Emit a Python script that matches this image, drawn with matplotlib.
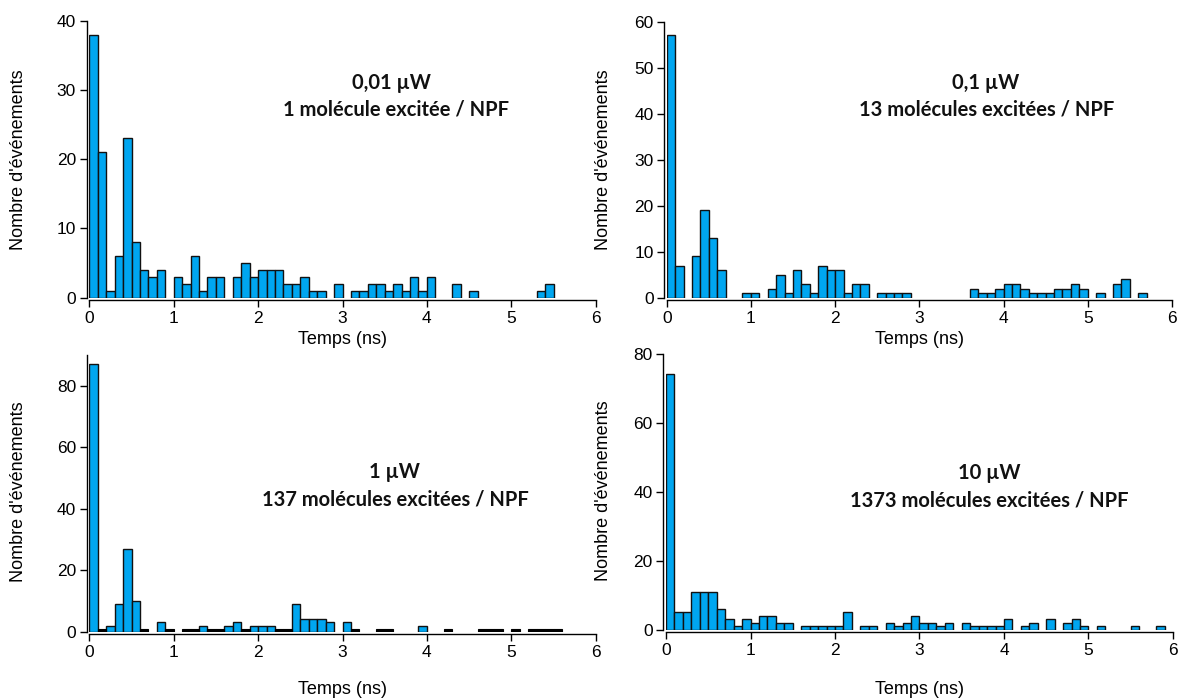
import numpy as np
import matplotlib
matplotlib.use("Agg")
import matplotlib.pyplot as plt

# ---------------- data (counts per 0.1 ns bin, 0 -> 6 ns) ----------------
bin_width = 0.1
bin_start = np.round(np.arange(60) * bin_width, 1)

counts_001uW = [38, 21, 1, 6, 23, 8, 4, 3, 4, 0,
                3, 2, 6, 1, 3, 3, 0, 3, 5, 3,
                4, 4, 4, 2, 2, 3, 1, 1, 0, 2,
                0, 1, 1, 2, 2, 1, 2, 1, 3, 1,
                3, 0, 0, 2, 0, 1, 0, 0, 0, 0,
                0, 0, 0, 1, 2, 0, 0, 0, 0, 0]

counts_01uW = [57, 7, 0, 9, 19, 13, 6, 0, 0, 1,
               1, 0, 2, 5, 1, 6, 3, 1, 7, 6,
               6, 1, 3, 3, 0, 1, 1, 1, 1, 0,
               0, 0, 0, 0, 0, 0, 2, 1, 1, 2,
               3, 3, 2, 1, 1, 1, 2, 2, 3, 2,
               0, 1, 0, 3, 4, 0, 1, 0, 0, 0]

nan = np.nan
# 0 = recorded empty bin (drawn as a black stroke), nan = no bin drawn
counts_1uW = [87, 0, 2, 9, 27, 10, 0, nan, 3, 0,
              nan, 0, 0, 2, 0, 0, 2, 3, 0, 2,
              2, 2, 0, 0, 9, 4, 4, 4, 3, nan,
              3, 0, nan, nan, 0, 0, nan, nan, nan, 2,
              nan, nan, 0, nan, nan, nan, 0, 0, 0, nan,
              0, nan, 0, 0, 0, 0, nan, nan, nan, nan]

counts_10uW = [74, 5, 5, 11, 11, 11, 6, 3, 1, 3,
               2, 4, 4, 2, 2, 0, 1, 1, 1, 1,
               1, 5, 0, 1, 1, 0, 2, 1, 2, 4,
               2, 2, 1, 2, 0, 2, 1, 1, 1, 1,
               3, 0, 1, 2, 0, 3, 0, 2, 3, 1,
               0, 1, 0, 0, 0, 1, 0, 0, 1, 0]

power_labels = ["0,01 µW", "0,1 µW", "1 µW", "10 µW"]
molecule_labels = ["1 molécule excitée / NPF", "13 molécules excitées / NPF",
                   "137 molécules excitées / NPF", "1373 molécules excitées / NPF"]
y_max = [40, 60, 90, 80]
y_ticks = [[0, 10, 20, 30, 40], [0, 10, 20, 30, 40, 50, 60],
           [0, 20, 40, 60, 80], [0, 20, 40, 60, 80]]
x_ticks = [0, 1, 2, 3, 4, 5, 6]
xlabel = "Temps (ns)"
ylabel = "Nombre d'événements"

# ---------------- style ----------------
W, H = 1183, 700
BAR = "#00A6F0"
EDGE = "#111111"
plt.rcParams["font.family"] = ["Liberation Sans", "DejaVu Sans"]

fig = plt.figure(figsize=(W / 100, H / 100), dpi=100)

# axes rectangles in pixels: left, right, top, bottom
rects_px = [(89.3, 595.7, 20.7, 297.7),
            (666.7, 1171.9, 21.7, 297.7),
            (89.3, 595.7, 355.0, 631.7),
            (666.0, 1173.0, 353.7, 629.7)]
ylab_px = [(19, 160), (603, 160), (19, 492), (603, 491)]
xlab_y_px = [339, 339, 690, 690]
txt1_px = [(391, 83), (985.5, 83), (394.5, 471.7), (988.8, 472.7)]
txt2_px = [(396, 110), (986.3, 110), (395, 500), (989.5, 500)]

series = [counts_001uW, counts_01uW, counts_1uW, counts_10uW]

for i, (l, r, t, b) in enumerate(rects_px):
    ax = fig.add_axes([l / W, 1 - b / H, (r - l) / W, (b - t) / H])
    ax.patch.set_visible(False)
    vals = np.array(series[i], dtype=float)
    pos = np.nan_to_num(vals) > 0
    ax.bar(bin_start[pos], vals[pos], width=bin_width, align="edge",
           color=BAR, edgecolor=EDGE, linewidth=1.0, zorder=3)
    zero = vals == 0
    if i == 2:
        ax.bar(bin_start[zero], np.full(zero.sum(), 0.9), width=bin_width,
               align="edge", color="black", edgecolor="black",
               linewidth=0.8, zorder=3)
    ax.set_xlim(0, 6)
    ax.set_ylim(0, y_max[i])
    ax.set_xticks(x_ticks)
    ax.set_yticks(y_ticks[i])
    for s in ["top", "right"]:
        ax.spines[s].set_visible(False)
    for s in ["left", "bottom"]:
        ax.spines[s].set_position(("outward", 2))
        ax.spines[s].set_linewidth(1.0)
    ax.tick_params(direction="out", length=5, width=1.0, labelsize=12.5, pad=2.5)
    w_px, h_px = r - l, b - t
    ax.set_xlabel(xlabel, fontsize=13)
    ax.xaxis.label.set_verticalalignment("center")
    ax.xaxis.set_label_coords(0.5, (b - xlab_y_px[i]) / h_px)
    ax.set_ylabel(ylabel, fontsize=13)
    ax.yaxis.label.set_verticalalignment("center")
    ax.yaxis.set_label_coords((ylab_px[i][0] - l) / w_px, (b - ylab_px[i][1]) / h_px)
    x1, y1 = txt1_px[i]
    x2, y2 = txt2_px[i]
    ax.text((x1 - l) / w_px, (b - y1) / h_px, power_labels[i], transform=ax.transAxes,
            ha="center", va="center", fontsize=14.5, fontweight="bold",
            family=["Lato", "DejaVu Sans"], color="#111111")
    ax.text((x2 - l) / w_px, (b - y2) / h_px, molecule_labels[i], transform=ax.transAxes,
            ha="center", va="center", fontsize=14.5, fontweight="bold",
            family=["Lato", "DejaVu Sans"], color="#111111")

fig.savefig("out.png", dpi=100)
